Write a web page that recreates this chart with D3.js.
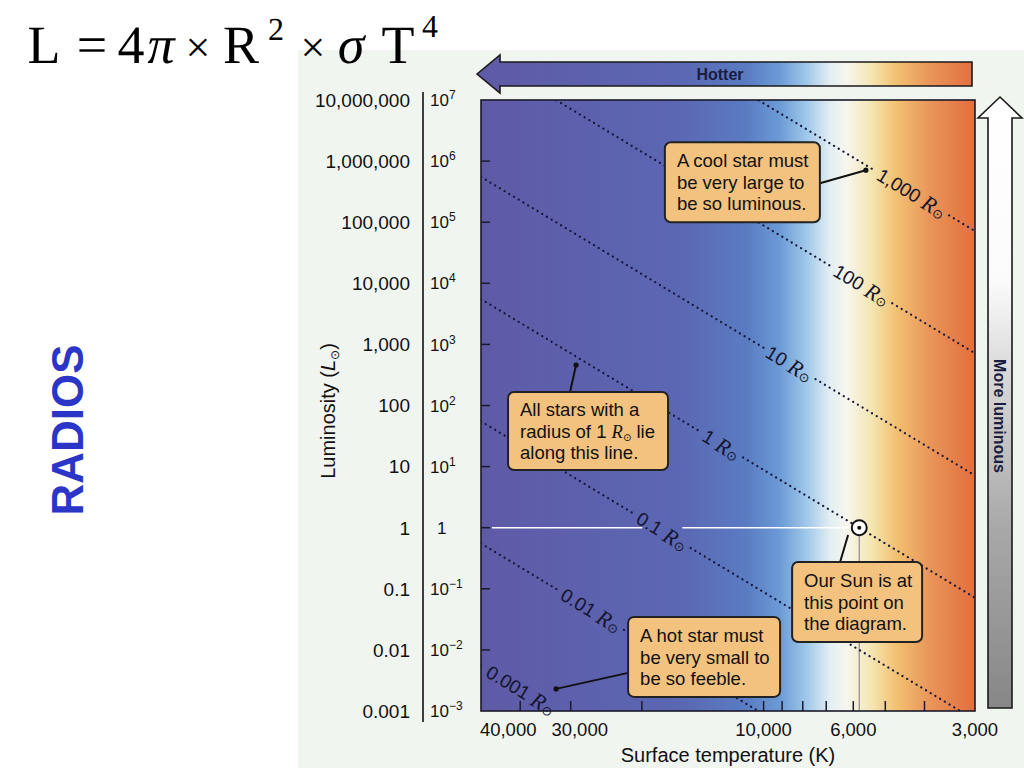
<!DOCTYPE html>
<html><head><meta charset="utf-8">
<script src="https://cdn.jsdelivr.net/npm/d3@7"></script>
<style>body{margin:0;background:#fff}svg{display:block}</style>
</head><body>
<svg id="c" width="1024" height="768"></svg>
<script>
// ---------- data ----------
const lumTicks = [1e-3, 1e-2, 1e-1, 1, 1e1, 1e2, 1e3, 1e4, 1e5, 1e6, 1e7];
const lumLabels = ["0.001","0.01","0.1","1","10","100","1,000","10,000","100,000","1,000,000","10,000,000"];
const lumPowers = ["\u22123","\u22122","\u22121", null, "1","2","3","4","5","6","7"];
const tempLabelTicks = [40000, 30000, 10000, 6000, 3000];
const tempLabels = ["40,000","30,000","10,000","6,000","3,000"];
const tempLabelShift = [-12, 9, 0, 0, 0];
const tempMinorTicks = [40000, 30000, 20000, 10000, 9000, 8000, 7000, 6000, 5000, 4000];
const radii = [0.001, 0.01, 0.1, 1, 10, 100, 1000];
const radiusLabels = ["0.001","0.01","0.1","1","10","100","1,000"];
const radiusLabelTemps = [39800, 26700, 17800, 12700, 8630, 5720, 4300];
const sunTemp = 5800, sunLum = 1;
const colorStopTemps = [50000, 16100, 11000, 9100, 7820, 6860, 6225, 5370, 4680, 3880, 3000];
const colorStopColors = ["#5f5aa6","#5b67b3","#5a7cc2","#6c9bd6","#a0c8ea","#e2eef2","#f7f6ee","#f4e4ae","#f2c070","#e9955a","#e26e3e"];
const calloutTexts = [
  ["A cool star must","be very large to","be so luminous."],
  ["All stars with a","radius of 1 |R| lie","along this line."],
  ["Our Sun is at","this point on","the diagram."],
  ["A hot star must","be very small to","be so feeble."]
];
const calloutAnchorT = [5585, 29100, 6180, 32600];
const calloutAnchorL = [7.1e5, 460, 0.76, 0.0023];

// ---------- layout ----------
const svg = d3.select("#c");
const P = {l:481, r:975, t:100, b:711};
const x = d3.scaleLog().domain([50000, 3000]).range([P.l, P.r]);
const y = d3.scaleLog().domain([1e-3, 1e7]).range([P.b, P.t]);
const lum = (R, T) => R * R * Math.pow(T / sunTemp, 4);
const SANS = "'Liberation Sans', Arial, Helvetica, sans-serif";
const SERIF = "'Liberation Serif', 'Times New Roman', serif";
const SUN = "\u2299";

// scanned page background
svg.append("rect").attr("x",298).attr("y",50).attr("width",726).attr("height",718).attr("fill","#f1f5f0");

const defs = svg.append("defs");
const grad = defs.append("linearGradient").attr("id","tgrad")
  .attr("gradientUnits","userSpaceOnUse").attr("x1",P.l).attr("x2",P.r).attr("y1",0).attr("y2",0);
colorStopTemps.forEach((t,i)=>{
  grad.append("stop").attr("offset",(x(t)-P.l)/(P.r-P.l)).attr("stop-color",colorStopColors[i]);
});
const vgrad = defs.append("linearGradient").attr("id","vgrad")
  .attr("gradientUnits","userSpaceOnUse").attr("x1",0).attr("x2",0).attr("y1",97).attr("y2",708);
[[0,"#ffffff"],[0.3,"#fbfbfb"],[0.45,"#d9d9d9"],[0.7,"#a9a9a9"],[1,"#878787"]].forEach(s=>
  vgrad.append("stop").attr("offset",s[0]).attr("stop-color",s[1]));
defs.append("clipPath").attr("id","plotclip").append("rect")
  .attr("x",P.l).attr("y",P.t).attr("width",P.r-P.l).attr("height",P.b-P.t);

// formula title
const title = svg.append("g").attr("font-family",SERIF).attr("fill","#000").attr("text-anchor","middle")
  .style("text-rendering","geometricPrecision");
[["L",44,63,54,"normal"],["=",92,63,54,"normal"],["4",131,63,54,"normal"],["\u03c0",161,63,54,"italic"],
 ["\u00d7",198,62,44,"normal"],["R",241,63,54,"normal"],["2",276,40,32,"normal"],["\u00d7",313,62,44,"normal"],
 ["\u03c3",351,63,54,"italic"],["T",398,63,54,"normal"],["4",430,37,32,"normal"]].forEach(g=>{
  title.append("text").attr("x",g[1]).attr("y",g[2]).attr("font-size",g[3]).attr("font-style",g[4]).text(g[0]);
});

// RADIOS
svg.append("text").attr("transform","translate(83,430) rotate(-90)").attr("text-anchor","middle")
  .attr("font-family",SANS).attr("font-weight","bold").attr("font-size",44).attr("fill","#2b36c8").text("RADIOS");

// plot background
svg.append("rect").attr("x",P.l).attr("y",P.t).attr("width",P.r-P.l).attr("height",P.b-P.t).attr("fill","url(#tgrad)");

// Hotter arrow
const ay = 74;
svg.append("path").attr("d",`M${P.l-4},${ay} L${P.l+19},${ay-19} L${P.l+19},${ay-12} L${P.r-3},${ay-12} L${P.r-3},${ay+12} L${P.l+19},${ay+12} L${P.l+19},${ay+19} Z`)
  .attr("fill","url(#tgrad)").attr("stroke","#1a1a1a").attr("stroke-width",1.6).attr("stroke-linejoin","miter");
svg.append("text").attr("x",720).attr("y",ay).attr("dy","0.36em").attr("text-anchor","middle")
  .attr("font-family",SANS).attr("font-weight","bold").attr("font-size",16).attr("fill","#1c1c40").text("Hotter");

// More luminous arrow
svg.append("path").attr("d","M1000,97 L1022,118 L1012,118 L1012,708 L988,708 L988,118 L978,118 Z")
  .attr("fill","url(#vgrad)").attr("stroke","#1a1a1a").attr("stroke-width",1.6);
svg.append("text").attr("transform","translate(1000,416) rotate(90)").attr("dy","0.36em").attr("text-anchor","middle")
  .attr("font-family",SANS).attr("font-weight","bold").attr("font-size",16).attr("fill","#1c1c40").text("More luminous");

// sun guide lines (under dotted lines)
const sx = x(sunTemp), sy = y(sunLum);
const gapC = x(radiusLabelTemps[2]);
svg.append("g").attr("stroke","#ffffff").attr("stroke-width",1.6)
  .selectAll("line").data([[P.l+11, gapC-20],[gapC+20, sx-8]]).join("line")
  .attr("x1",d=>d[0]).attr("x2",d=>d[1]).attr("y1",sy).attr("y2",sy);
svg.append("line").attr("x1",sx).attr("x2",sx).attr("y1",sy+8).attr("y2",P.b)
  .attr("stroke","#8a8a8a").attr("stroke-width",1.2);

// radius lines + labels
const linesG = svg.append("g").attr("clip-path","url(#plotclip)");
const labelsG = svg.append("g").attr("font-family",SANS).attr("font-size",19).attr("fill","#15152e");
const p0 = R => [x(50000), y(lum(R,50000))];
const p1 = R => [x(3000), y(lum(R,3000))];
const ang = Math.atan2(p1(1)[1]-p0(1)[1], p1(1)[0]-p0(1)[0]) * 180/Math.PI;
radii.forEach((R,i)=>{
  const T = radiusLabelTemps[i];
  const cx = x(T), cy = y(lum(R,T));
  const t = labelsG.append("text").attr("transform",`translate(${cx},${cy}) rotate(${ang})`)
    .attr("text-anchor","middle").attr("dominant-baseline","central");
  t.append("tspan").text(radiusLabels[i] + " ");
  t.append("tspan").attr("font-family",SERIF).attr("font-style","italic").attr("font-size",22).text("R");
  t.append("tspan").attr("font-family","'DejaVu Sans'").attr("font-size",13).attr("dy",4).text(SUN);
  const len = t.node().getComputedTextLength();
  const a = p0(R), b = p1(R);
  const L = Math.hypot(b[0]-a[0], b[1]-a[1]);
  const ux = (b[0]-a[0])/L, uy = (b[1]-a[1])/L;
  const s = (cx-a[0])*ux + (cy-a[1])*uy;
  const h = len/2 + 5;
  [[0, s-h],[s+h, L]].forEach(seg=>{
    linesG.append("line")
      .attr("x1",a[0]+ux*seg[0]).attr("y1",a[1]+uy*seg[0])
      .attr("x2",a[0]+ux*seg[1]).attr("y2",a[1]+uy*seg[1])
      .attr("stroke","#16163a").attr("stroke-width",2.2).attr("stroke-linecap","round")
      .attr("stroke-dasharray","0.1 5.4");
  });
});

// plot frame & inner ticks
svg.append("rect").attr("x",P.l).attr("y",P.t).attr("width",P.r-P.l).attr("height",P.b-P.t)
  .attr("fill","none").attr("stroke","#1a1a2a").attr("stroke-width",1.6);
svg.append("g").attr("stroke","#1a1a2a").attr("stroke-width",1.5)
  .selectAll("line").data(lumTicks.slice(1,-1)).join("line")
  .attr("x1",P.l).attr("x2",P.l+9).attr("y1",d=>y(d)).attr("y2",d=>y(d));
svg.append("g").attr("stroke","#1a1a2a").attr("stroke-width",1.5)
  .selectAll("line").data(tempMinorTicks).join("line")
  .attr("x1",d=>x(d)).attr("x2",d=>x(d)).attr("y1",P.b).attr("y2",P.b-10);

// sun marker
svg.append("circle").attr("cx",sx).attr("cy",sy).attr("r",7.5).attr("fill","#fff").attr("stroke","#111").attr("stroke-width",2);
svg.append("circle").attr("cx",sx).attr("cy",sy).attr("r",2).attr("fill","#111");

// luminosity axis
svg.append("line").attr("x1",423).attr("x2",423).attr("y1",92).attr("y2",722).attr("stroke","#111").attr("stroke-width",1.6);
const yl = svg.append("g").attr("font-family",SANS).attr("fill","#111");
lumTicks.forEach((v,i)=>{
  yl.append("text").attr("x",410).attr("y",y(v)).attr("dy","0.36em").attr("text-anchor","end")
    .attr("font-size",19).text(lumLabels[i]);
  const t = yl.append("text").attr("x",430).attr("y",y(v)).attr("dy","0.36em").attr("font-size",17);
  if (lumPowers[i] === null) { t.attr("x",437).text("1"); }
  else { t.text("10"); t.append("tspan").attr("dy",-7).attr("font-size",12).text(lumPowers[i]); }
});
const ylab = svg.append("text").attr("transform","translate(328,411) rotate(-90)").attr("text-anchor","middle")
  .attr("dy","0.36em").attr("font-family",SANS).attr("font-size",20).attr("fill","#111");
ylab.append("tspan").text("Luminosity (");
ylab.append("tspan").attr("font-style","italic").text("L");
ylab.append("tspan").attr("font-family","'DejaVu Sans'").attr("font-size",12).attr("dy",4).text(SUN);
ylab.append("tspan").attr("dy",-4).text(")");

// temperature axis labels
const xl = svg.append("g").attr("font-family",SANS).attr("fill","#111").attr("font-size",18.5).attr("text-anchor","middle");
tempLabelTicks.forEach((v,i)=>{
  xl.append("text").attr("x",x(v)+tempLabelShift[i]).attr("y",729).attr("dy","0.36em").text(tempLabels[i]);
});
svg.append("text").attr("x",728).attr("y",755).attr("dy","0.36em").attr("text-anchor","middle")
  .attr("font-family",SANS).attr("font-size",20).attr("fill","#111").text("Surface temperature (K)");

// callouts
const boxes = [
  {dx:-201, dy:-28, w:155, h:80, px:155, py:41},
  {dx:-68, dy:27, w:160, h:78, px:62, py:0},
  {dx:-56, dy:27, w:130, h:80, px:48, py:0},
  {dx:72, dy:-72, w:152, h:80, px:0, py:56}
];
calloutTexts.forEach((lines,i)=>{
  const ax = x(calloutAnchorT[i]), ay2 = y(calloutAnchorL[i]);
  const b = boxes[i];
  const bx = ax + b.dx, by = ay2 + b.dy;
  const g = svg.append("g");
  g.append("line").attr("x1",bx+b.px).attr("y1",by+b.py).attr("x2",ax).attr("y2",ay2)
    .attr("stroke","#111").attr("stroke-width",2);
  if (i !== 2) g.append("circle").attr("cx",ax).attr("cy",ay2).attr("r",2.6).attr("fill","#111");
  g.append("rect").attr("x",bx).attr("y",by).attr("width",b.w).attr("height",b.h).attr("rx",6)
    .attr("fill","#f2c27e").attr("stroke","#222").attr("stroke-width",2);
  const lh = 21.5;
  lines.forEach((ln,j)=>{
    const t = g.append("text").attr("x",bx+12).attr("y",by + b.h/2 + (j-1)*lh).attr("dy","0.36em")
      .attr("font-family",SANS).attr("font-size",18.5).attr("fill","#111");
    const parts = ln.split("|");
    if (parts.length === 1) t.text(ln);
    else {
      t.append("tspan").text(parts[0]);
      t.append("tspan").attr("font-family",SERIF).attr("font-style","italic").attr("font-size",18.5).text(parts[1]);
      t.append("tspan").attr("font-family","'DejaVu Sans'").attr("font-size",10).attr("dy",3).text(SUN);
      t.append("tspan").attr("dy",-3).text(parts[2]);
    }
  });
});
</script>
</body></html>
